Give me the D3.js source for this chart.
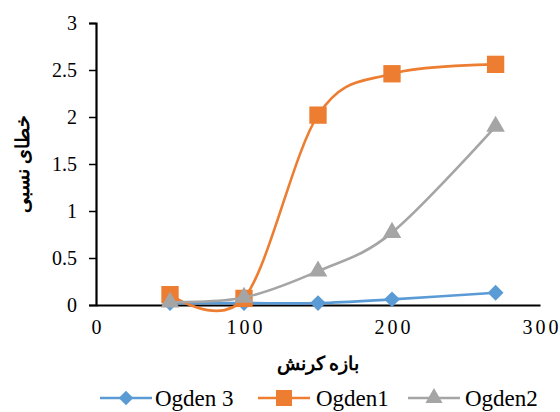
<!DOCTYPE html>
<html>
<head>
<meta charset="utf-8">
<script src="https://cdn.jsdelivr.net/npm/d3@7"></script>
<style>
  html, body { margin: 0; padding: 0; background: #fff; }
</style>
</head>
<body>
<svg id="chart" width="560" height="412"></svg>
<script>
// Strain range values (x) and relative error of each Ogden model
const strain = [50, 100, 150, 200, 270];
const ogden3 = [0.02, 0.02, 0.02, 0.06, 0.13];
const ogden1 = [0.11, 0.07, 2.02, 2.46, 2.56];
const ogden2 = [0.03, 0.08, 0.36, 0.77, 1.9];
const seriesNames = ["Ogden 3", "Ogden1", "Ogden2"];
const seriesColors = ["#5B9BD5", "#ED7D31", "#A5A5A5"];
const xTicks = [0, 100, 200, 300];
const yTicks = [0, 0.5, 1, 1.5, 2, 2.5, 3];
const xTitle = "بازه کرنش";
const yTitle = "خطای نسبی";

const SERIF = '"Liberation Serif"';

const svg = d3.select("#chart");
const x = d3.scaleLinear().domain([0, 300]).range([96, 540]);
const y = d3.scaleLinear().domain([0, 3]).range([305, 23]);

// Marker shapes: rotated square (diamond), square, triangle
const markers = [
  { type: d3.symbolSquare, size: 125, rotate: 45 },
  { type: d3.symbolSquare, size: 300, rotate: 0 },
  { type: d3.symbolTriangle, size: 150, rotate: 0 }
];

// Y axis with outward ticks
const yAxis = svg.append("g").attr("transform", `translate(${x(0)},0)`)
  .call(d3.axisLeft(y).tickValues(yTicks).tickFormat(d3.format("")).tickSize(7).tickPadding(12));
yAxis.select(".domain").attr("stroke", "#000").attr("stroke-width", 2.2);
yAxis.selectAll(".tick line").attr("stroke", "#000").attr("stroke-width", 1.5);
yAxis.selectAll(".tick text").style("font-family", SERIF).style("font-size", "20px").attr("fill", "#000");

// X axis: baseline only, labels below
const xAxis = svg.append("g").attr("transform", `translate(0,${y(0)})`)
  .call(d3.axisBottom(x).tickValues(xTicks).tickSize(0).tickPadding(15));
xAxis.select(".domain").attr("stroke", "#000").attr("stroke-width", 2.2);
xAxis.selectAll(".tick text").style("font-family", SERIF).style("font-size", "20px")
  .style("letter-spacing", "3px").attr("dx", "1.5px").attr("fill", "#000");

// Axis titles
svg.append("text").attr("x", 318).attr("y", 370).attr("text-anchor", "middle")
  .attr("direction", "rtl").style("font-family", SERIF).style("font-size", "19px")
  .style("font-weight", "bold").text(xTitle);
svg.append("text").attr("transform", "translate(29,164) rotate(-90)").attr("text-anchor", "middle")
  .attr("direction", "rtl").style("font-family", SERIF).style("font-size", "19px")
  .style("font-weight", "bold").text(yTitle);

// Series: smoothed lines with markers
const allSeries = [ogden3, ogden1, ogden2];
const line = d3.line().x(d => x(d[0])).y(d => y(d[1])).curve(d3.curveCatmullRom.alpha(0));
[0, 1, 2].forEach(i => {
  const pts = strain.map((s, k) => [s, allSeries[i][k]]);
  const m = markers[i];
  const g = svg.append("g");
  g.append("path").datum(pts).attr("d", line).attr("fill", "none")
    .attr("stroke", seriesColors[i]).attr("stroke-width", 2.6);
  g.selectAll("path.m").data(pts).join("path").attr("class", "m")
    .attr("transform", d => `translate(${x(d[0])},${y(d[1])}) rotate(${m.rotate})`)
    .attr("d", d3.symbol().type(m.type).size(m.size))
    .attr("fill", seriesColors[i]);
});

// Legend
const legendItems = [
  { x0: 100, tx: 155 },
  { x0: 258, tx: 316 },
  { x0: 408, tx: 465 }
];
legendItems.forEach((it, i) => {
  const g = svg.append("g");
  const ly = 398;
  const m = markers[i];
  g.append("line").attr("x1", it.x0).attr("x2", it.x0 + 52).attr("y1", ly).attr("y2", ly)
    .attr("stroke", seriesColors[i]).attr("stroke-width", 2.6);
  g.append("path").attr("transform", `translate(${it.x0 + 26},${ly}) rotate(${m.rotate})`)
    .attr("d", d3.symbol().type(m.type).size(m.size * 0.85))
    .attr("fill", seriesColors[i]);
  g.append("text").attr("x", it.tx).attr("y", ly + 8).style("font-family", SERIF)
    .style("font-size", "23px").attr("fill", "#000").text(seriesNames[i]);
});
</script>
</body>
</html>
